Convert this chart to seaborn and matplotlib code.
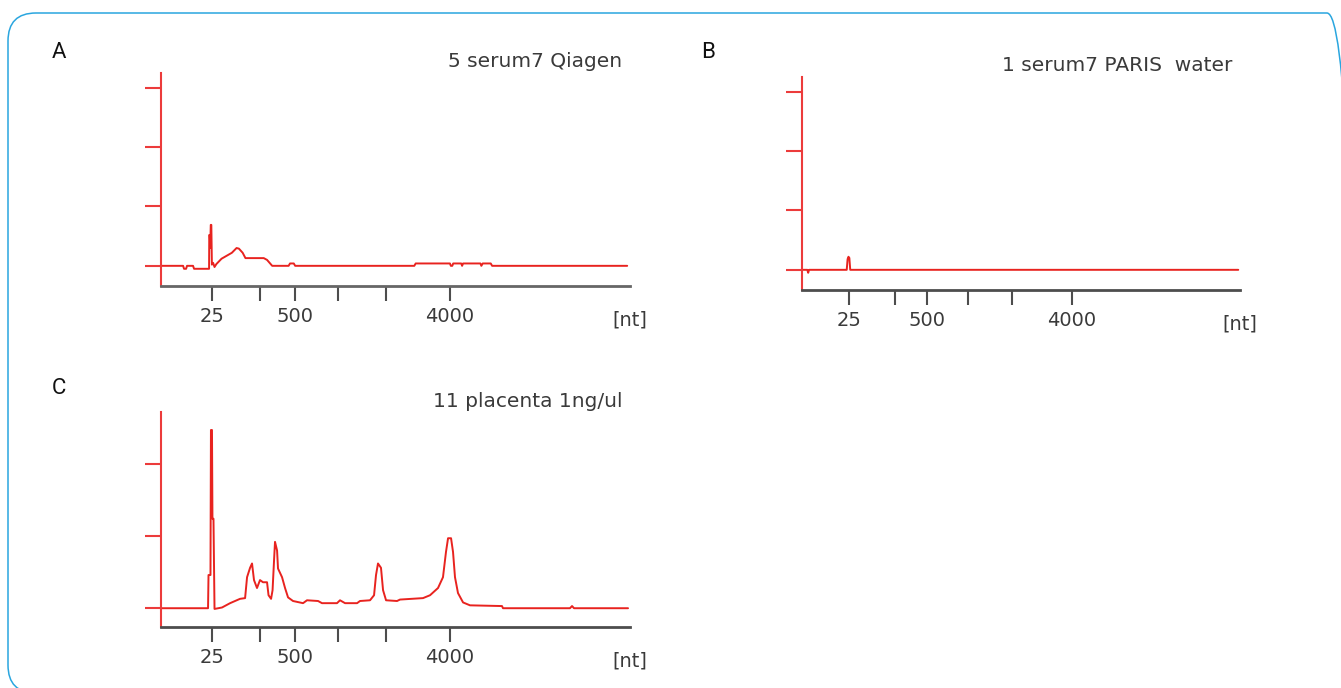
import matplotlib
matplotlib.use("Agg")
import matplotlib.pyplot as plt
from matplotlib.patches import FancyBboxPatch
import seaborn as sns

# ladder positions on the migration-time axis and their [nt] labels
LADDER_TIME = [24.4, 29.6, 33.3, 37.9, 43.0, 49.8]
LADDER_LABELS = ["25", "", "500", "", "", "4000"]

# A: 5 serum7 Qiagen
A_TIME = [19.0, 21.35, 21.45, 21.67, 21.77, 22.41, 22.52, 24.12, 24.14, 24.2,
          24.24, 24.3, 24.36, 24.42, 24.55, 24.7, 24.9, 25.45, 26.0, 26.55,
          27.05, 27.3, 27.7, 28.0, 29.95, 30.3, 30.85, 32.6, 32.75, 33.15,
          33.3, 46.0, 46.15, 49.8, 49.9, 50.05, 50.15, 51.0, 51.1, 51.2,
          53.05, 53.15, 53.3, 54.15, 54.3, 68.7]
A_FU = [0, 0, -0.05, -0.05, 0, 0, -0.05, -0.05, 0.52, 0.52,
        0.3, 0.69, 0.69, 0.02, 0.05, -0.02, 0.03, 0.12, 0.17, 0.22,
        0.3, 0.29, 0.22, 0.13, 0.13, 0.1, 0, 0, 0.04, 0.04,
        0, 0, 0.04, 0.04, 0, 0, 0.04, 0.04, 0, 0.04,
        0.04, 0, 0.04, 0.04, 0, 0]

# B: 1 serum7 PARIS water
B_TIME = [19.0, 19.6, 19.7, 19.8, 24.1, 24.2, 24.3, 24.4, 24.5, 68.8]
B_FU = [0, 0, -0.05, 0, 0, 0.18, 0.22, 0.2, 0, 0]

# C: 11 placenta 1ng/ul
C_TIME = [19.0, 24.01, 24.06, 24.27, 24.32, 24.43, 24.48, 24.59, 24.7, 25.5,
          26.36, 27.42, 27.96, 28.17, 28.49, 28.7, 28.91, 29.23, 29.55, 29.87,
          30.3, 30.46, 30.73, 30.89, 31.05, 31.15, 31.37, 31.47, 31.9, 32.22,
          32.54, 33.07, 34.14, 34.56, 35.74, 36.16, 37.76, 38.08, 38.62, 39.9,
          40.21, 41.28, 41.71, 41.92, 42.13, 42.45, 42.67, 42.99, 44.16, 44.48,
          46.93, 47.68, 48.53, 49.06, 49.38, 49.6, 49.92, 50.13, 50.34, 50.66,
          51.2, 51.94, 55.35, 55.46, 62.6, 62.82, 63.03, 68.79]
C_FU = [0, 0, 0.46, 0.46, 2.47, 2.47, 1.24, 1.24, -0.01, 0.01,
        0.07, 0.13, 0.14, 0.43, 0.56, 0.62, 0.39, 0.28, 0.39, 0.36,
        0.36, 0.18, 0.13, 0.25, 0.67, 0.92, 0.80, 0.55, 0.43, 0.28,
        0.15, 0.10, 0.07, 0.11, 0.10, 0.07, 0.07, 0.11, 0.07, 0.07,
        0.10, 0.11, 0.18, 0.46, 0.62, 0.56, 0.25, 0.11, 0.10, 0.12,
        0.14, 0.18, 0.28, 0.43, 0.78, 0.97, 0.97, 0.78, 0.43, 0.21,
        0.08, 0.04, 0.03, 0.0, 0, 0.03, 0, 0]

TRACE_RED = "#e8231f"
AXIS_RED = "#ec3b3b"
AXIS_GREY = "#4d4d4d"
TEXT_GREY = "#3a3a3a"

sns.set_style("ticks")
plt.rcParams["font.family"] = ["DejaVu Sans"]

fig = plt.figure(figsize=(13.41, 6.88), dpi=100)

# rounded blue frame, partly running off the right and bottom edges
frame = FancyBboxPatch((0.08, -0.05), 13.47, 6.80,
                       boxstyle="round,pad=0,rounding_size=0.28",
                       transform=fig.dpi_scale_trans, fill=False,
                       edgecolor="#2aa6df", linewidth=1.1, clip_on=False)
fig.add_artist(frame)

panels = [
    # letter, title, time, fu, axes rect, ylim, yticks, letter pos, title pos
    ("A", "5 serum7 Qiagen", A_TIME, A_FU, [0.1201, 0.5843, 0.3497, 0.3096],
     (-0.34, 3.25), [0, 1, 2, 3], (0.044, 0.923), (0.983, 1.052), "#666666"),
    ("B", "1 serum7 PARIS  water", B_TIME, B_FU, [0.5981, 0.5785, 0.3266, 0.3096],
     (-0.34, 3.25), [0, 1, 2, 3], (0.528, 0.923), (0.982, 1.056), AXIS_GREY),
    ("C", "11 placenta 1ng/ul", C_TIME, C_FU, [0.1201, 0.0887, 0.3497, 0.3125],
     (-0.26, 2.72), [0, 1, 2], (0.044, 0.435), (0.985, 1.047), AXIS_GREY),
]

for letter, title, t, fu, rect, ylim, yticks, lpos, tpos, xcol in panels:
    assert len(t) == len(fu)
    ax = fig.add_axes(rect)
    sns.lineplot(x=t, y=fu, ax=ax, color=TRACE_RED, linewidth=1.4,
                 estimator=None, sort=False)
    ax.set_xlim(19, 69)
    ax.set_ylim(*ylim)

    ax.set_xticks(LADDER_TIME)
    ax.set_xticklabels(LADDER_LABELS)
    ax.set_yticks(yticks)
    ax.set_yticklabels([])

    for side in ["top", "right"]:
        ax.spines[side].set_visible(False)
    ax.spines["left"].set_color(AXIS_RED)
    ax.spines["left"].set_linewidth(1.5)
    ax.spines["bottom"].set_color(xcol)
    ax.spines["bottom"].set_linewidth(2)

    ax.tick_params(axis="x", bottom=True, direction="out", length=11, width=1.5,
                   color=AXIS_GREY, labelsize=14, labelcolor=TEXT_GREY, pad=4)
    ax.tick_params(axis="y", left=True, direction="out", length=11.5, width=1.5,
                   color=AXIS_RED)
    ax.set_xlabel("")
    ax.set_ylabel("")

    ax.annotate("[nt]", xy=(1, 0), xycoords="axes fraction",
                xytext=(0, -34), textcoords="offset pixels",
                ha="center", va="center", fontsize=14, color=TEXT_GREY)
    ax.text(tpos[0], tpos[1], title, transform=ax.transAxes,
            ha="right", va="center", fontsize=14.5, color=TEXT_GREY)
    fig.text(lpos[0], lpos[1], letter, ha="center", va="center",
             fontsize=16, color="#111111", family=["Roboto", "DejaVu Sans"])

fig.savefig("out.png", dpi=100)
